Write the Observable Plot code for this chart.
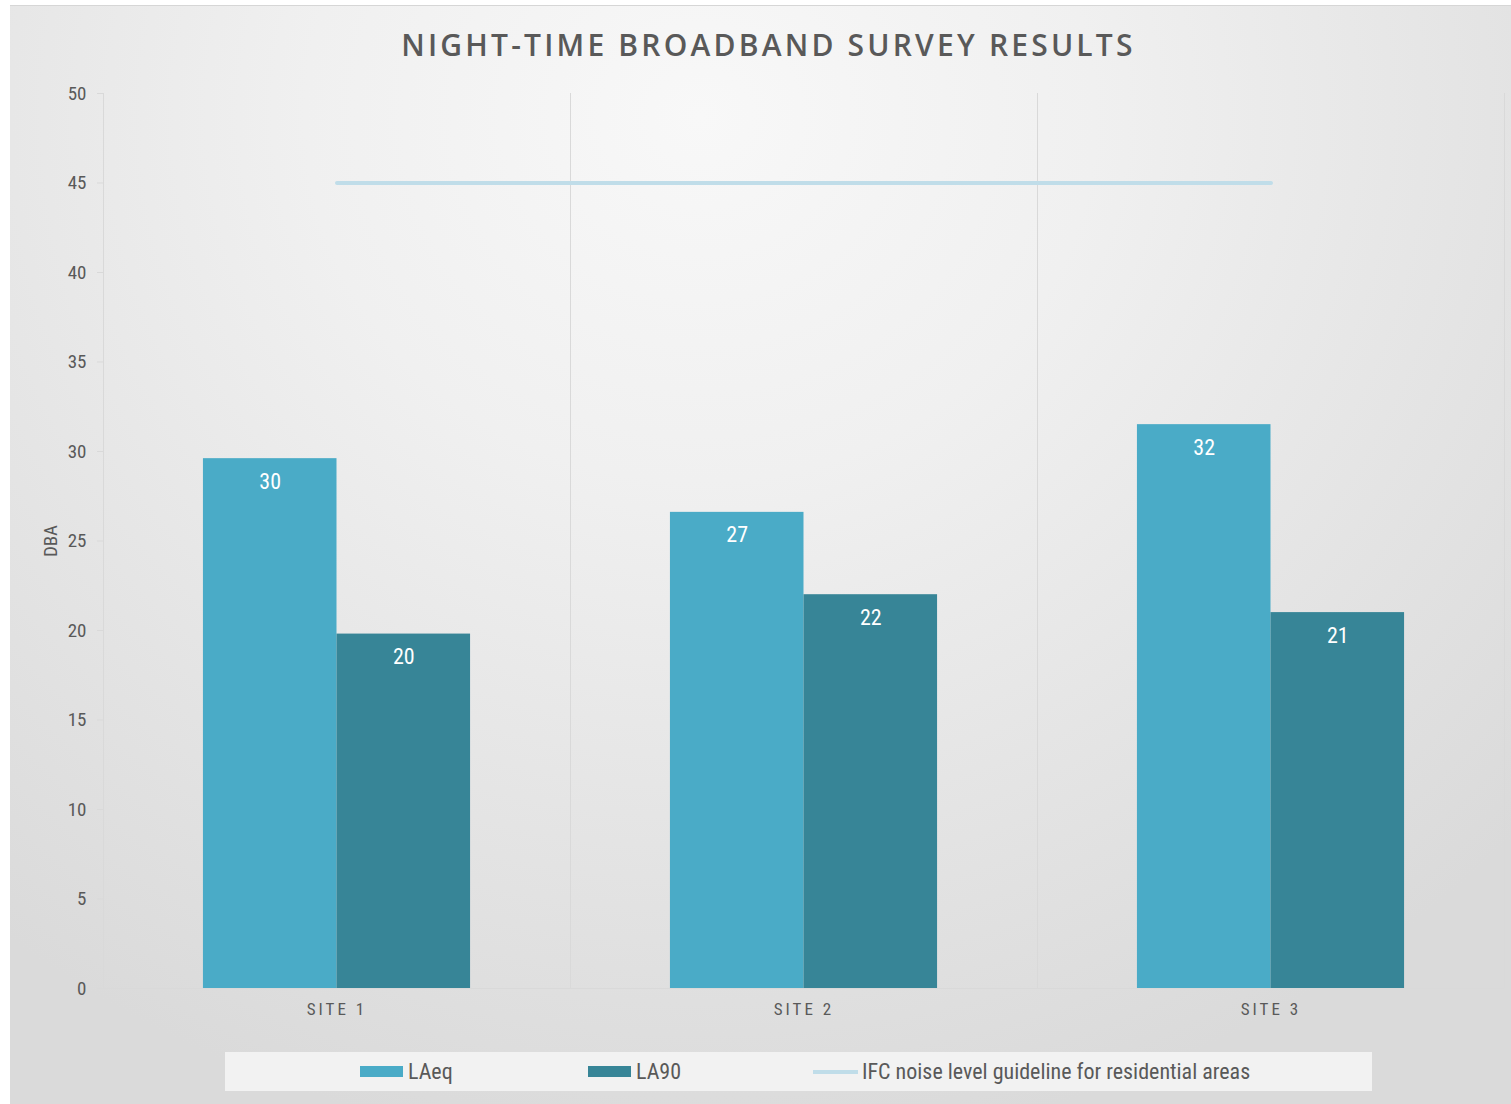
<!DOCTYPE html>
<html>
<head>
<meta charset="utf-8">
<script src="https://cdn.jsdelivr.net/npm/d3@7"></script>
<script src="https://cdn.jsdelivr.net/npm/@observablehq/plot@0.6"></script>
<style>
  html, body { margin: 0; padding: 0; background: #ffffff; }
  body { width: 1511px; height: 1104px; position: relative; overflow: hidden; }
  #panel {
    position: absolute; left: 10px; top: 5px; width: 1501px; height: 1099px;
    border-top: 1px solid #d6d6d6; box-sizing: border-box;
    background: radial-gradient(ellipse 75% 95% at 46% 10%, #f8f8f8 0%, #f0f0f0 35%, #e4e4e4 70%, #dadada 100%);
  }
  #title {
    position: absolute; top: 18px; left: 0; width: 100%; padding-left: 16px; box-sizing: border-box;
    text-align: center; font-family: "Open Sans", sans-serif; font-weight: 600;
    font-size: 30px; letter-spacing: 3.2px; color: #595959;
  }
  #chart { position: absolute; left: 0; top: 64px; }
  .narrow { font-family: "Liberation Sans Narrow", "Arial Narrow", "Roboto Condensed", "Liberation Sans", Arial, sans-serif; }
  #chart g[aria-label="y-axis tick"] { stroke: #d9d9d9; }
  #chart g[aria-label="x-axis tick label"] { letter-spacing: 3px; }
  #legend {
    position: absolute; left: 215px; top: 1046px; width: 1147px; height: 39px;
    background: #f2f2f2; display: flex; align-items: center; padding-left: 135px; box-sizing: border-box;
    font-size: 22px; color: #595959; white-space: nowrap;
  }
  .item { display: flex; align-items: center; white-space: nowrap; }
  .item:nth-child(1) { width: 228px; }
  .item:nth-child(2) { width: 225px; }
  .swatch { width: 43px; height: 11px; margin-right: 5px; }
  .lineswatch { width: 45px; height: 4px; margin-right: 4px; }
</style>
</head>
<body>
<div id="panel">
  <div id="title">NIGHT-TIME BROADBAND SURVEY RESULTS</div>
  <div id="chart" class="narrow"></div>
  <div id="legend" class="narrow"></div>
</div>
<script>
// Survey sites along the category axis
const sites = ["SITE 1", "SITE 2", "SITE 3"];
// Night-time equivalent continuous level, dBA
const laeq = [29.6, 26.6, 31.5];
// Night-time background level (90th percentile), dBA
const la90 = [19.8, 22.0, 21.0];
// IFC night-time guideline for residential receptors, dBA
const guideline = 45;
// Value axis ticks
const yTicks = [0, 5, 10, 15, 20, 25, 30, 35, 40, 45, 50];

const seriesNames = ["LAeq", "LA90"];
const colors = {LAeq: "#4aabc7", LA90: "#378597"};
const guideColor = "#c0dde9";
const gridColor = "#d9d9d9";
const textColor = "#595959";

const bars = sites.flatMap((site, i) => [
  {site, series: "LAeq", value: laeq[i]},
  {site, series: "LA90", value: la90[i]}
]);
const guideRows = sites.map(site => ({site, value: guideline}));

const width = 1501, height = 960;
const marginLeft = 93, marginRight = 7, marginTop = 23, marginBottom = 42;
const bandW = (width - marginLeft - marginRight) / sites.length;
const barW = bandW * 0.286;
const outer = (bandW - 2 * barW) / 2;
const fmt = d3.format(".0f");
const fontFamily = getComputedStyle(document.querySelector(".narrow")).fontFamily;

const chart = Plot.plot({
  width, height, marginLeft, marginRight, marginTop, marginBottom,
  style: {background: "transparent", fontFamily, color: textColor, overflow: "visible"},
  x: {type: "band", domain: sites, padding: 0, label: null},
  y: {domain: [0, 50], label: null},
  marks: [
    // category separators
    Plot.ruleX(sites, {x: d => d, dx: -bandW / 2, stroke: gridColor}),
    Plot.ruleX(sites.slice(-1), {x: d => d, dx: bandW / 2, stroke: gridColor}),
    Plot.ruleY([0], {stroke: gridColor}),
    Plot.barY(bars.filter(d => d.series === "LAeq"), {
      x: "site", y: "value", fill: colors.LAeq, insetLeft: outer, insetRight: outer + barW
    }),
    Plot.barY(bars.filter(d => d.series === "LA90"), {
      x: "site", y: "value", fill: colors.LA90, insetLeft: outer + barW, insetRight: outer
    }),
    Plot.lineY(guideRows, {x: "site", y: "value", stroke: guideColor, strokeWidth: 4}),
    Plot.text(bars.filter(d => d.series === "LAeq"), {
      x: "site", y: "value", text: d => fmt(d.value), dx: -barW / 2, dy: 23,
      fill: "white", fontSize: 22, lineAnchor: "middle"
    }),
    Plot.text(bars.filter(d => d.series === "LA90"), {
      x: "site", y: "value", text: d => fmt(d.value), dx: barW / 2, dy: 23,
      fill: "white", fontSize: 22, lineAnchor: "middle"
    }),
    Plot.axisY({ticks: yTicks, tickSize: 6, tickPadding: 11, fontSize: 19, color: textColor, label: null}),
    Plot.axisX({tickSize: 0, tickPadding: 14, fontSize: 17, color: textColor, label: null}),
    Plot.text(["DBA"], {frameAnchor: "left", textAnchor: "middle", rotate: -90, dx: -53, fontSize: 19, fill: textColor})
  ]
});
document.getElementById("chart").appendChild(chart);

// legend row
const legend = d3.select("#legend");
seriesNames.forEach(name => {
  const it = legend.append("div").attr("class", "item");
  it.append("div").attr("class", "swatch").style("background", colors[name]);
  it.append("span").text(name);
});
const gi = legend.append("div").attr("class", "item");
gi.append("div").attr("class", "lineswatch").style("background", guideColor);
gi.append("span").text("IFC noise level guideline for residential areas");
</script>
</body>
</html>
